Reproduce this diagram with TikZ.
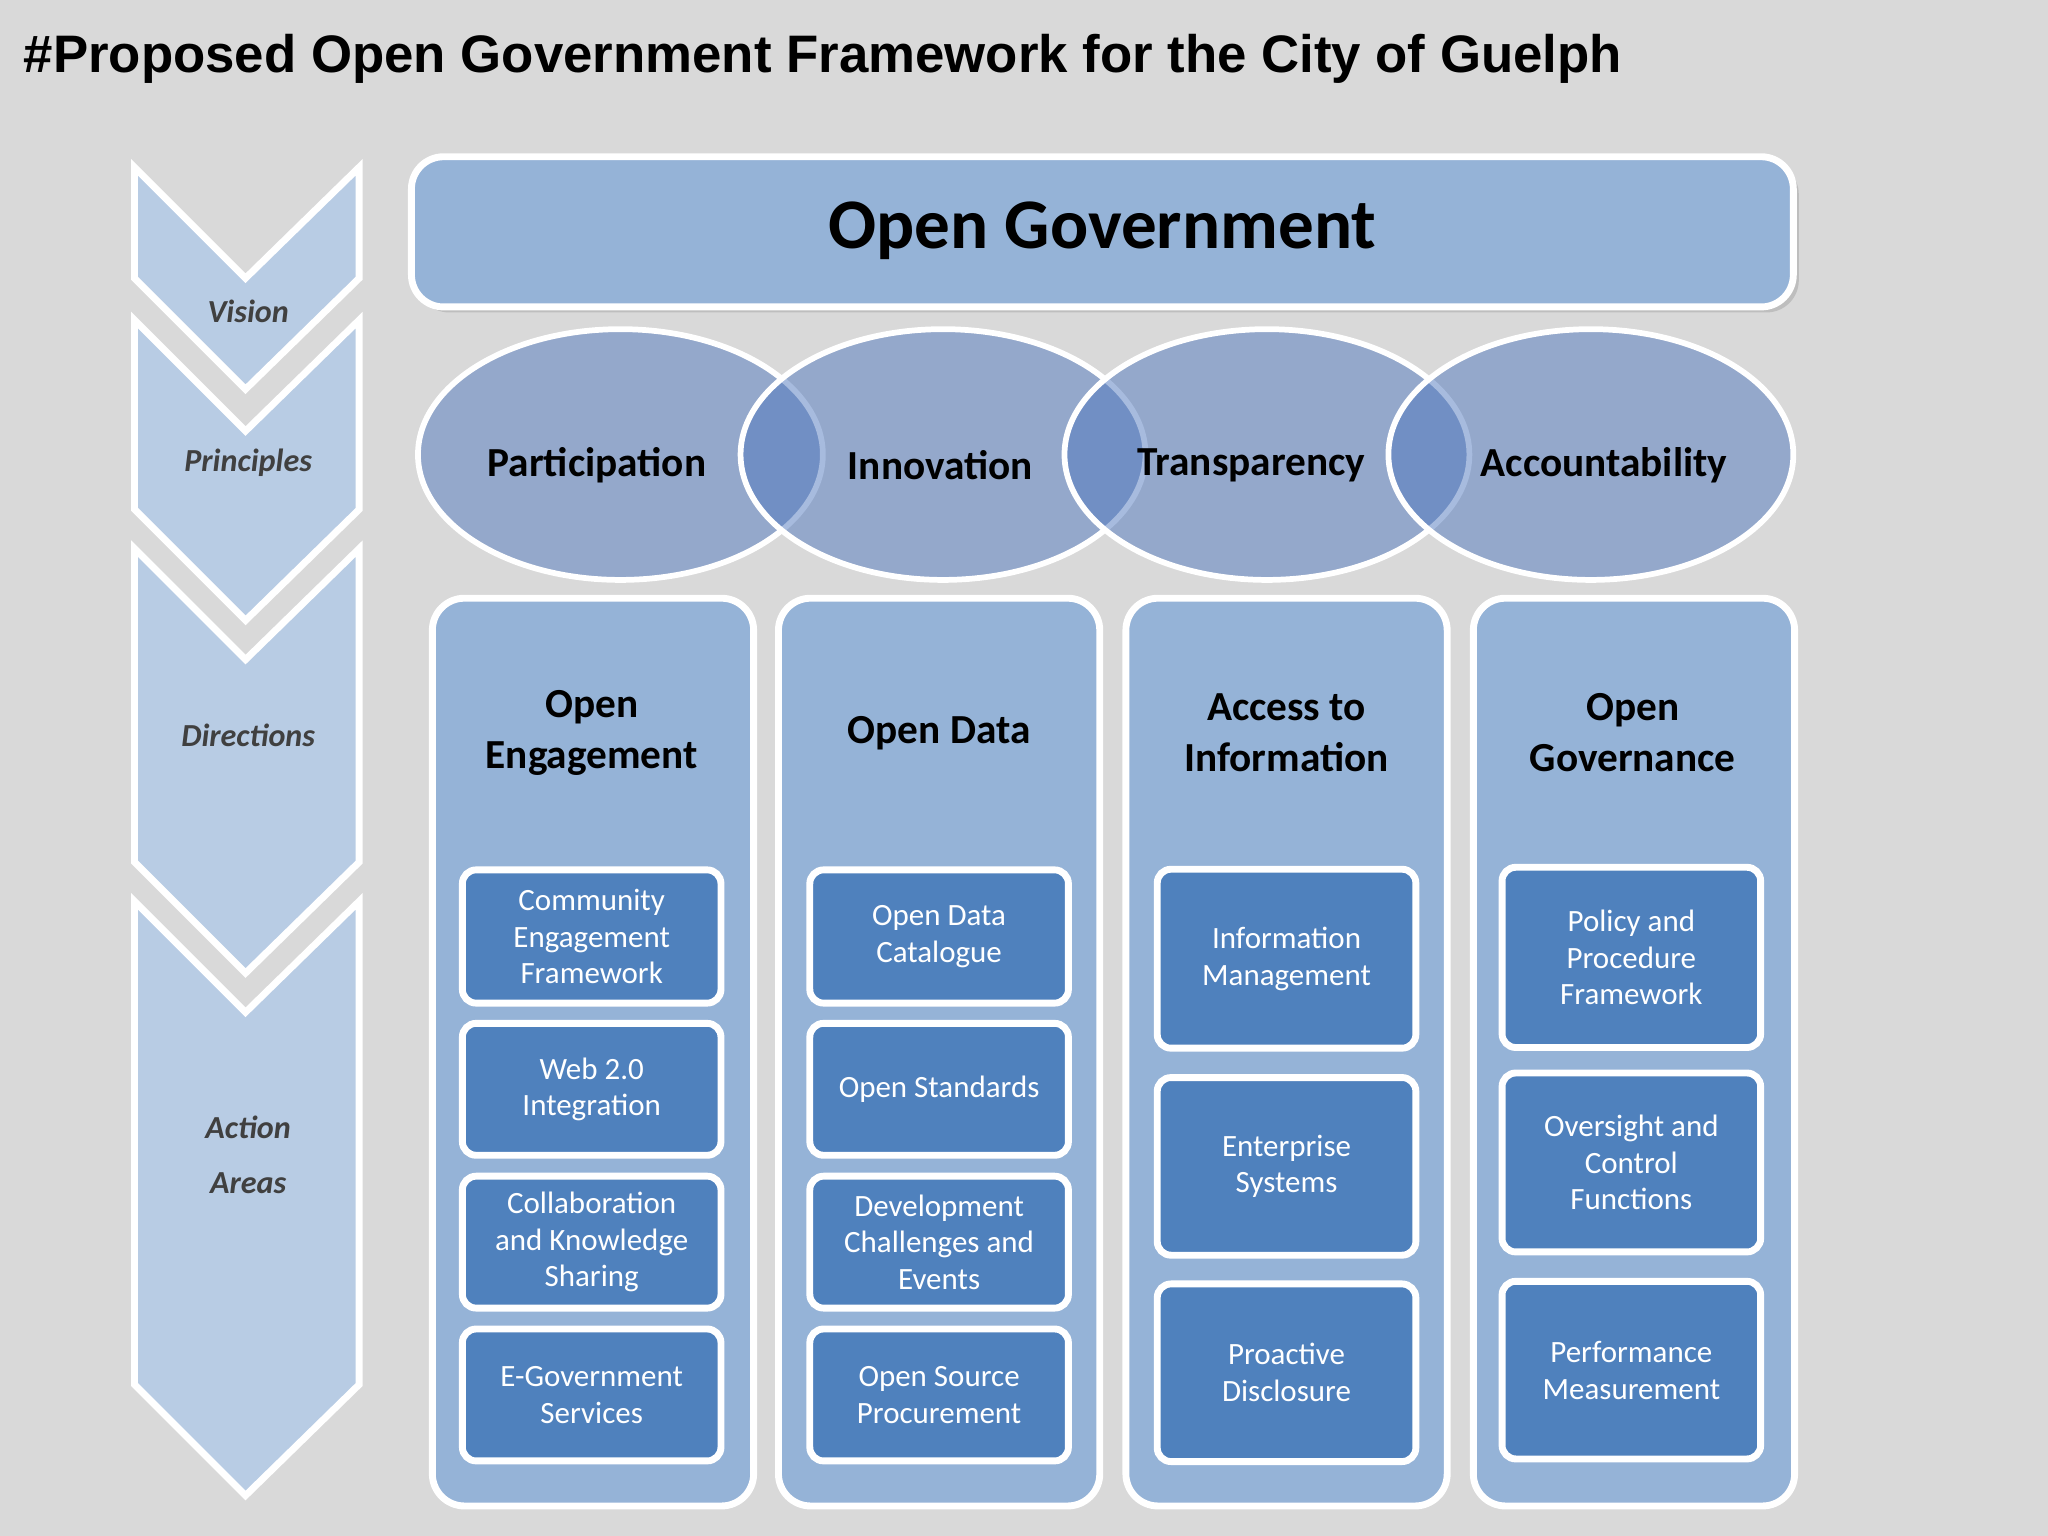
\documentclass[tikz,border=0pt]{standalone}
\usepackage{fontspec}
\setmainfont{Carlito}
\newfontfamily\titlefont{Liberation Sans}
\usetikzlibrary{shadows}
\definecolor{bg}{RGB}{217,217,217}
\definecolor{chev}{RGB}{184,204,228}
\definecolor{lblue}{RGB}{149,179,215}
\definecolor{dblue}{RGB}{79,129,189}
\definecolor{ellc}{RGB}{80,120,190}
\definecolor{lab}{RGB}{64,64,64}
\tikzset{
 chevron/.style={fill=chev,draw=white,line width=3pt,line join=miter},
 chevlab/.style={font=\bfseries\itshape\fontsize{14}{16}\selectfont,text=lab},
 colbox/.style={fill=lblue,draw=white,line width=3pt,rounded corners=14pt},
 ell/.style={ellipse,fill=ellc,fill opacity=0.5,draw=white,line width=2.5pt,minimum width=310\unitx,minimum height=192\unitx},
 elltext/.style={font=\bfseries\fontsize{18}{20}\selectfont},
 head/.style={font=\bfseries\fontsize{18}{22}\selectfont,align=center},
 sbox/.style={fill=dblue,draw=white,line width=3pt,rounded corners=6pt,text=white,align=center,font=\fontsize{13.5}{16}\selectfont,minimum width=198\unitx,inner sep=2pt},
}
\newlength{\unitx}\setlength{\unitx}{0.02cm}
\usetikzlibrary{shapes.geometric}
\begin{document}
\begin{tikzpicture}[x=0.02cm,y=-0.02cm]
\fill[bg] (0,0) rectangle (1568,1176);
\useasboundingbox (0,0) rectangle (1568,1176);
\node[anchor=west,font=\titlefont\bfseries\fontsize{23}{26}\selectfont] (title) at (12,45) {\#Proposed Open Government Framework for the City of Guelph};
% chevrons
\foreach \t/\s in {690/1060,420/660,245/390,128/213}{
 \draw[chevron] (103,\t) -- (188,\t+85) -- (275,\t) -- (275,\s) -- (188,\s+85) -- (103,\s) -- cycle;
}
\node[chevlab] (lv) at (190,238) {Vision};
\node[chevlab] (lp) at (190,354) {Principles};
\node[chevlab] (ld) at (190,563) {Directions};
\node[chevlab] (la1) at (190,863) {Action};
\node[chevlab] (la2) at (190,906) {Areas};
% top box
\draw[fill=lblue,draw=white,line width=3pt,rounded corners=14pt,drop shadow={opacity=0.3}] (315,120) rectangle (1373,235);
\node[font=\bfseries\fontsize{31}{34}\selectfont] (og) at (844,177) {Open Government};
% ellipses
\node[ell] (e1) at (475,348) {};
\node[ell] (e2) at (722,348) {};
\node[ell] (e3) at (970,348) {};
\node[ell] (e4) at (1218,348) {};
\node[elltext] at (457,356) {Participation};
\node[elltext] at (720,356) {Innovation};
\node[elltext] at (958,356) {Transparency};
\node[elltext] at (1228,356) {Accountability};
% columns
\foreach \x in {331,596,862,1128}{
 \draw[colbox] (\x,458) rectangle (\x+246,1153);
}
\node[head] (h1) at (453,561) {Open\\Engagement};
\node[head] (h2) at (719,561) {Open Data};
\node[head] (h3) at (985,561) {Access to\\Information};
\node[head] (h4) at (1250,561) {Open\\Governance};
% boxes col 1,2
\node[sbox,minimum height=102\unitx] (b11) at (453,717) {Community\\Engagement\\Framework};
\node[sbox,minimum height=101\unitx] (b12) at (453,834) {Web 2.0\\Integration};
\node[sbox,minimum height=101\unitx] (b13) at (453,951) {Collaboration\\and Knowledge\\Sharing};
\node[sbox,minimum height=101\unitx] (b14) at (453,1068) {E-Government\\Services};
\node[sbox,minimum height=102\unitx] (b21) at (719,717) {Open Data\\Catalogue};
\node[sbox,minimum height=101\unitx] (b22) at (719,834) {Open Standards};
\node[sbox,minimum height=101\unitx] (b23) at (719,951) {Development\\Challenges and\\Events};
\node[sbox,minimum height=101\unitx] (b24) at (719,1068) {Open Source\\Procurement};
% col 3,4
\node[sbox,minimum height=137\unitx] (b31) at (985,734) {Information\\Management};
\node[sbox,minimum height=136\unitx] (b32) at (985,893) {Enterprise\\Systems};
\node[sbox,minimum height=136\unitx] (b33) at (985,1051) {Proactive\\Disclosure};
\node[sbox,minimum height=138\unitx] (b41) at (1249,733) {Policy and\\Procedure\\Framework};
\node[sbox,minimum height=137\unitx] (b42) at (1249,890) {Oversight and\\Control\\Functions};
\node[sbox,minimum height=136\unitx] (b43) at (1249,1049) {Performance\\Measurement};
\end{tikzpicture}
\end{document}
